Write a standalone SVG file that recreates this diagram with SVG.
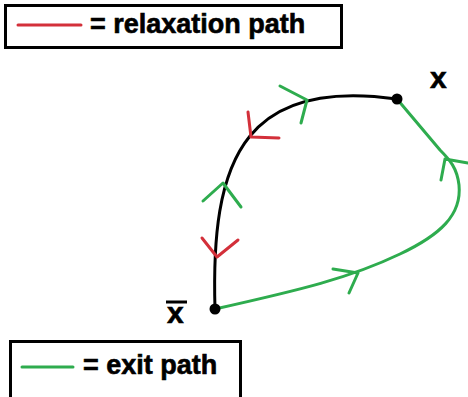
<svg xmlns="http://www.w3.org/2000/svg" width="468" height="397" viewBox="0 0 468 397">
<style>
.box{fill:#fff;stroke:#000;stroke-width:3}
.lbl{font-family:"Liberation Sans",Arial,sans-serif;font-weight:bold;fill:#000;stroke:#000;stroke-width:0.6}
.leg{font-size:27px}
.var{font-size:30px}
.blk{fill:none;stroke:#000;stroke-width:3;stroke-linecap:round}
.grn{fill:none;stroke:#2eac4e;stroke-width:3;stroke-linecap:round;stroke-linejoin:round}
.red{fill:none;stroke:#d3303a;stroke-width:3;stroke-linecap:round;stroke-linejoin:round}
</style>
<rect width="468" height="397" fill="#fff"/>
<g id="legend-relaxation">
<rect class="box" x="5.5" y="5.5" width="336" height="42"/>
<line class="red" x1="18" y1="25" x2="81" y2="25"/>
<text class="lbl leg" x="90" y="33">= relaxation path</text>
</g>
<g id="legend-exit">
<rect class="box" x="10.5" y="341.5" width="230" height="60"/>
<line class="grn" x1="22" y1="367" x2="73" y2="367"/>
<text class="lbl leg" x="83" y="374">= exit path</text>
</g>
<g id="connectors">
<path class="blk" d="M215,309 C213,240 218,175 250,136 C275,105 320,88 397,99"/>
<path class="grn" d="M215,309 C300,290 350,278 400,254 C440,235 462,215 459,185 C457,168 450,160 440,150 L397,99"/>
<polyline class="grn" points="280,86 307,100 301,123"/>
<polyline class="grn" points="203,201 223,183 241,207"/>
<polyline class="grn" points="468,163 445,159 441,180"/>
<polyline class="grn" points="333,269 358,273 349,293"/>
<polyline class="red" points="248,112 251,137 279,138"/>
<polyline class="red" points="202,238 217,257 238,240"/>
</g>
<g id="node-x">
<circle cx="397" cy="99" r="5.5" fill="#000"/>
<text class="lbl var" x="430" y="88">x</text>
</g>
<g id="node-xbar">
<circle cx="215" cy="309" r="5.5" fill="#000"/>
<text class="lbl var" x="167" y="323">x</text>
<line x1="166" y1="302" x2="187" y2="302" stroke="#000" stroke-width="3"/>
</g>
</svg>
